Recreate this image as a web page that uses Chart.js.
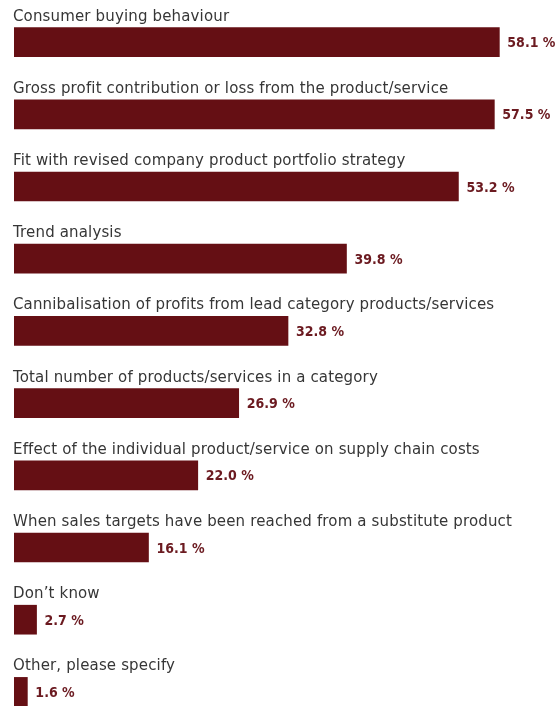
<!DOCTYPE html>
<html>
<head>
<meta charset="utf-8">
<script src="https://cdn.jsdelivr.net/npm/chart.js@4/dist/chart.umd.min.js"></script>
<style>
  html, body { margin: 0; padding: 0; background: #fff; }
  #wrap { width: 557px; height: 706px; overflow: hidden; }
</style>
</head>
<body>
<div id="wrap"><canvas id="chart" width="557" height="730"></canvas></div>
<script>
// ----- Data -----
const categories = [
  "Consumer buying behaviour",
  "Gross profit contribution or loss from the product/service",
  "Fit with revised company product portfolio strategy",
  "Trend analysis",
  "Cannibalisation of profits from lead category products/services",
  "Total number of products/services in a category",
  "Effect of the individual product/service on supply chain costs",
  "When sales targets have been reached from a substitute product",
  "Don\u2019t know",
  "Other, please specify"
];
const shares = [58.1, 57.5, 53.2, 39.8, 32.8, 26.9, 22.0, 16.1, 2.7, 1.6];

const barColor = "#650f14";
const valueColor = "#6b1a20";
const labelColor = "#363636";

// ----- Labels above and beside each bar -----
const barLabels = {
  id: "barLabels",
  afterDatasetsDraw(chart) {
    const ctx = chart.ctx;
    const meta = chart.getDatasetMeta(0);
    ctx.save();
    meta.data.forEach((bar, i) => {
      const top = bar.y - bar.height / 2;
      ctx.font = "15px 'DejaVu Sans', sans-serif";
      ctx.letterSpacing = "0.15px";
      ctx.fillStyle = labelColor;
      ctx.textAlign = "left";
      ctx.textBaseline = "alphabetic";
      ctx.fillText(categories[i], 13, top - 7);

      ctx.font = "bold 14px 'DejaVu Sans Condensed', 'DejaVu Sans', sans-serif";
      ctx.letterSpacing = "0px";
      ctx.fillStyle = valueColor;
      ctx.textBaseline = "middle";
      ctx.fillText(shares[i].toFixed(1) + " %", bar.x + 8, bar.y + 1.5);
    });
    ctx.restore();
  }
};

new Chart(document.getElementById("chart"), {
  type: "bar",
  data: {
    labels: categories,
    datasets: [{
      data: shares,
      backgroundColor: barColor,
      borderWidth: 0,
      barThickness: 29
    }]
  },
  options: {
    indexAxis: "y",
    responsive: false,
    animation: false,
    layout: { padding: { left: 14, right: 0, top: 6, bottom: 2 } },
    scales: {
      x: { min: 0, max: 65, display: false },
      y: { display: false }
    },
    plugins: {
      legend: { display: false },
      tooltip: { enabled: false }
    }
  },
  plugins: [barLabels]
});
</script>
</body>
</html>
